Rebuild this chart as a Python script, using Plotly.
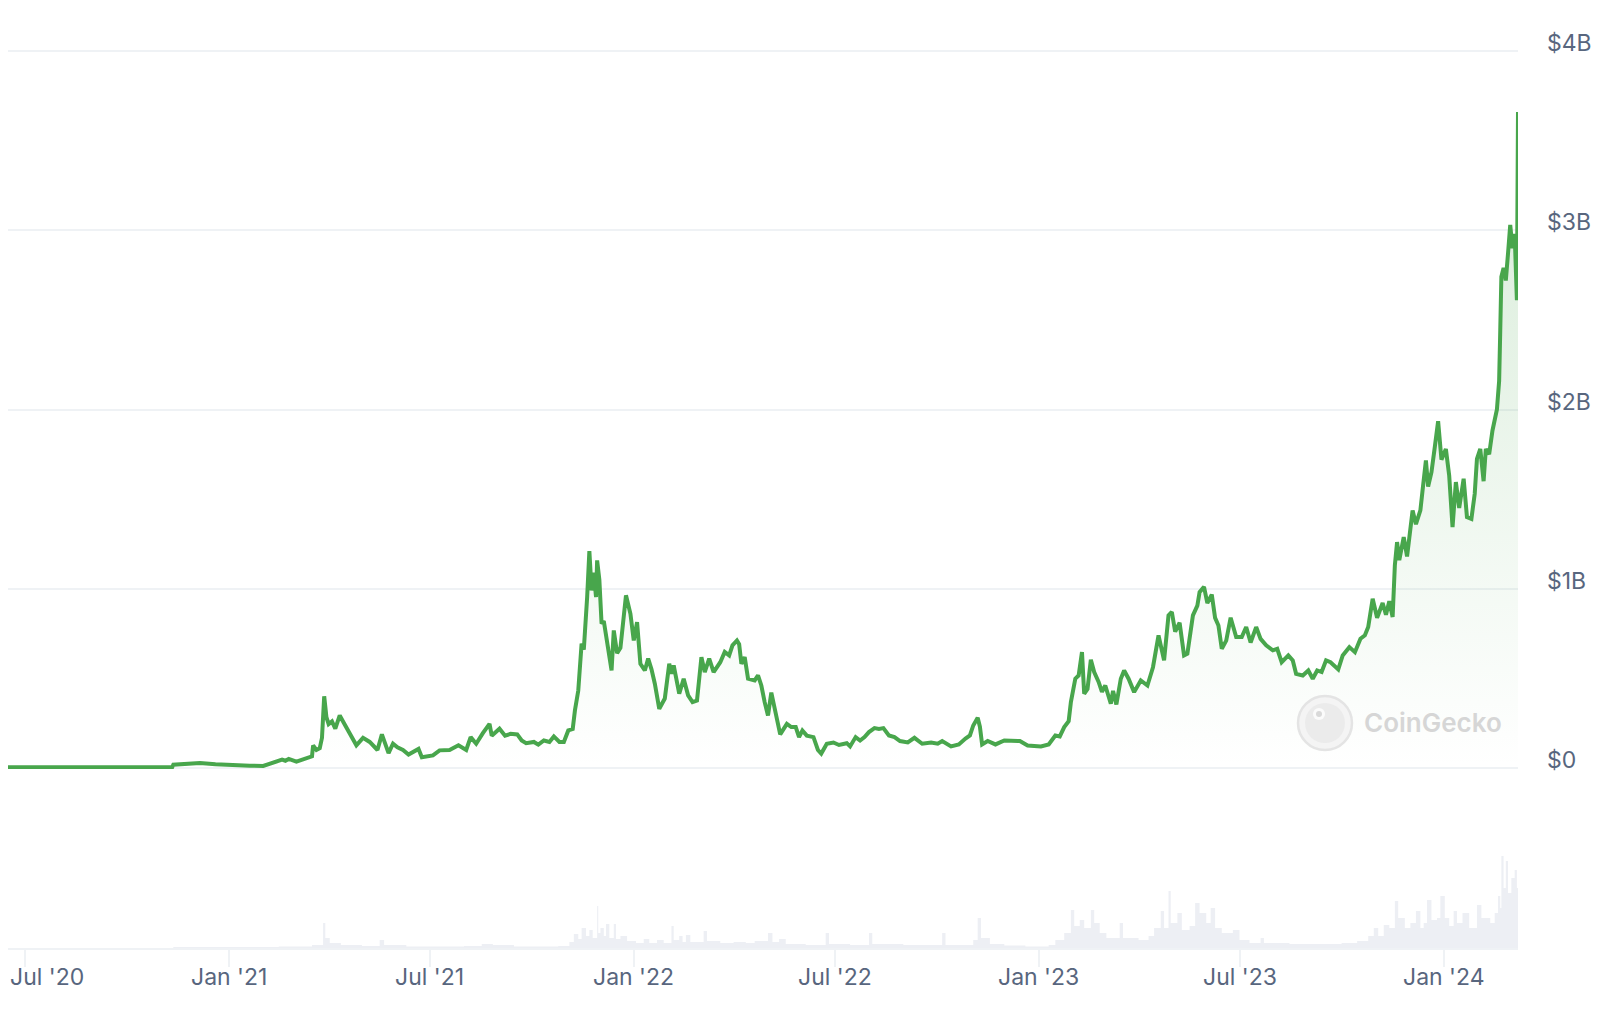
import plotly.graph_objects as go

# ---------------- data ----------------
price_dates = [
"2020-06-16","2020-08-15","2020-10-01","2020-11-11","2020-11-12","2020-11-25","2020-12-06","2020-12-20",
"2021-01-05","2021-01-20","2021-02-01","2021-02-07","2021-02-18","2021-02-21","2021-02-24","2021-03-03",
"2021-03-12","2021-03-17","2021-03-18","2021-03-21","2021-03-24","2021-03-26","2021-03-28","2021-03-30",
"2021-04-01","2021-04-04","2021-04-07","2021-04-11","2021-04-16","2021-04-20","2021-04-26","2021-05-02",
"2021-05-08","2021-05-15","2021-05-19","2021-05-25","2021-05-29","2021-06-02","2021-06-07","2021-06-12",
"2021-06-21","2021-06-24","2021-07-04","2021-07-10","2021-07-19","2021-07-27","2021-08-03","2021-08-07",
"2021-08-12","2021-08-18","2021-08-24","2021-08-26","2021-09-02","2021-09-07","2021-09-12","2021-09-18",
"2021-09-22","2021-09-26","2021-10-03","2021-10-07","2021-10-12","2021-10-17","2021-10-21","2021-10-26",
"2021-10-30","2021-11-03","2021-11-07","2021-11-09","2021-11-12","2021-11-15","2021-11-17","2021-11-20",
"2021-11-22","2021-11-24","2021-11-26","2021-11-28","2021-11-29","2021-12-01","2021-12-03","2021-12-05",
"2021-12-08","2021-12-12","2021-12-14","2021-12-17","2021-12-20","2021-12-23","2021-12-25","2021-12-29",
"2022-01-01","2022-01-04","2022-01-07","2022-01-11","2022-01-14","2022-01-17","2022-01-20","2022-01-24",
"2022-01-29","2022-02-02","2022-02-04","2022-02-06","2022-02-11","2022-02-15","2022-02-19","2022-02-23",
"2022-02-27","2022-03-03","2022-03-06","2022-03-10","2022-03-14","2022-03-20","2022-03-24","2022-03-28",
"2022-03-31","2022-04-04","2022-04-06","2022-04-08","2022-04-11","2022-04-14","2022-04-20","2022-04-23",
"2022-04-26","2022-04-29","2022-05-02","2022-05-05","2022-05-09","2022-05-13","2022-05-19","2022-05-23",
"2022-05-27","2022-05-30","2022-06-02","2022-06-06","2022-06-12","2022-06-16","2022-06-19","2022-06-24",
"2022-06-30","2022-07-05","2022-07-12","2022-07-15","2022-07-20","2022-07-24","2022-07-28","2022-08-01",
"2022-08-06","2022-08-10","2022-08-14","2022-08-19","2022-08-24","2022-08-29","2022-09-05","2022-09-11",
"2022-09-18","2022-09-26","2022-10-02","2022-10-06","2022-10-14","2022-10-21","2022-10-27","2022-10-31",
"2022-11-03","2022-11-07","2022-11-09","2022-11-11","2022-11-16","2022-11-23","2022-12-01","2022-12-07",
"2022-12-15","2022-12-22","2023-01-03","2023-01-10","2023-01-16","2023-01-20","2023-01-24","2023-01-28",
"2023-01-30","2023-02-03","2023-02-06","2023-02-09","2023-02-11","2023-02-14","2023-02-17","2023-02-20",
"2023-02-24","2023-02-27","2023-03-02","2023-03-07","2023-03-09","2023-03-12","2023-03-16","2023-03-19",
"2023-03-23","2023-03-28","2023-04-03","2023-04-09","2023-04-14","2023-04-19","2023-04-24","2023-04-28",
"2023-05-01","2023-05-04","2023-05-08","2023-05-12","2023-05-15","2023-05-20","2023-05-24","2023-05-26",
"2023-05-30","2023-06-02","2023-06-06","2023-06-09","2023-06-12","2023-06-15","2023-06-19","2023-06-23",
"2023-06-28","2023-07-03","2023-07-07","2023-07-11","2023-07-16","2023-07-20","2023-07-25","2023-07-31",
"2023-08-04","2023-08-08","2023-08-14","2023-08-18","2023-08-21","2023-08-27","2023-09-01","2023-09-05",
"2023-09-09","2023-09-13","2023-09-17","2023-09-21","2023-09-28","2023-10-02","2023-10-08","2023-10-13",
"2023-10-18","2023-10-22","2023-10-25","2023-10-29","2023-11-02","2023-11-07","2023-11-10","2023-11-13",
"2023-11-16","2023-11-18","2023-11-20","2023-11-22","2023-11-26","2023-11-29","2023-12-04","2023-12-07",
"2023-12-11","2023-12-13","2023-12-16","2023-12-18","2023-12-21","2023-12-24","2023-12-27","2023-12-30",
"2024-01-03","2024-01-06","2024-01-09","2024-01-12","2024-01-15","2024-01-19","2024-01-22","2024-01-26",
"2024-01-29","2024-01-31","2024-02-03","2024-02-06","2024-02-08","2024-02-11","2024-02-14","2024-02-18",
"2024-02-20","2024-02-21","2024-02-22","2024-02-24","2024-02-26","2024-02-28","2024-03-01","2024-03-03",
"2024-03-05","2024-03-07","2024-03-08",
]
market_cap_b = [
0.004,0.004,0.004,0.004,0.018,0.02,0.027,0.02,
0.014,0.012,0.011,0.022,0.046,0.04,0.05,0.035,
0.057,0.065,0.125,0.10,0.11,0.168,0.40,0.283,
0.245,0.26,0.219,0.293,0.237,0.194,0.126,0.168,
0.145,0.10,0.187,0.083,0.135,0.115,0.10,0.075,
0.106,0.06,0.07,0.098,0.10,0.126,0.10,0.172,
0.135,0.194,0.246,0.18,0.219,0.18,0.19,0.187,
0.153,0.138,0.145,0.13,0.153,0.145,0.176,0.145,
0.145,0.209,0.217,0.321,0.432,0.693,0.66,0.953,
1.21,0.99,1.09,0.953,1.158,1.05,0.805,0.82,
0.711,0.544,0.767,0.64,0.67,0.86,0.963,0.86,
0.711,0.814,0.581,0.544,0.61,0.55,0.47,0.33,
0.387,0.581,0.525,0.572,0.414,0.497,0.405,0.367,
0.376,0.618,0.535,0.61,0.535,0.59,0.647,0.628,
0.684,0.711,0.69,0.581,0.618,0.498,0.488,0.516,
0.46,0.367,0.293,0.42,0.31,0.187,0.246,0.228,
0.228,0.172,0.209,0.18,0.172,0.10,0.08,0.135,
0.142,0.128,0.138,0.12,0.172,0.153,0.172,0.20,
0.222,0.218,0.222,0.181,0.172,0.15,0.142,0.168,
0.135,0.142,0.135,0.15,0.12,0.131,0.164,0.181,
0.237,0.28,0.23,0.131,0.15,0.131,0.153,0.153,
0.15,0.125,0.12,0.131,0.181,0.176,0.228,0.261,
0.367,0.498,0.516,0.646,0.414,0.44,0.604,0.535,
0.48,0.424,0.46,0.358,0.43,0.354,0.498,0.544,
0.498,0.423,0.488,0.46,0.562,0.74,0.6,0.851,
0.87,0.76,0.81,0.628,0.637,0.851,0.906,0.981,
1.01,0.92,0.967,0.837,0.795,0.665,0.71,0.838,
0.73,0.73,0.786,0.70,0.786,0.72,0.684,0.656,
0.665,0.59,0.628,0.6,0.525,0.516,0.544,0.498,
0.544,0.535,0.6,0.59,0.55,0.628,0.674,0.646,
0.721,0.74,0.786,0.944,0.838,0.92,0.855,0.93,
0.842,1.13,1.26,1.16,1.288,1.18,1.437,1.36,
1.437,1.549,1.716,1.57,1.65,1.79,1.935,1.72,
1.78,1.63,1.344,1.595,1.45,1.614,1.40,1.39,
1.53,1.725,1.78,1.60,1.78,1.75,1.883,2.0,
2.16,2.44,2.74,2.79,2.72,2.87,3.03,2.9,
2.98,2.61,3.66,
]

volume_dates = [
"2020-06-16","2020-11-10","2020-11-12","2021-02-15","2021-03-17","2021-03-27","2021-03-29","2021-04-02",
"2021-04-12","2021-05-01","2021-05-17","2021-05-21","2021-06-10","2021-08-01","2021-08-17","2021-08-27",
"2021-09-15","2021-10-25","2021-11-04","2021-11-08","2021-11-12","2021-11-15","2021-11-19","2021-11-22",
"2021-11-25","2021-11-29","2021-11-30","2021-12-02","2021-12-05","2021-12-07","2021-12-10","2021-12-14",
"2021-12-16","2021-12-20","2021-12-26","2022-01-03","2022-01-10","2022-01-15","2022-01-22","2022-01-28",
"2022-02-04","2022-02-06","2022-02-11","2022-02-14","2022-02-17","2022-02-21","2022-03-05","2022-03-08",
"2022-03-20","2022-04-01","2022-04-12","2022-04-20","2022-05-02","2022-05-06","2022-05-12","2022-05-18",
"2022-06-05","2022-06-23","2022-06-26","2022-07-15","2022-08-01","2022-08-04","2022-09-01","2022-10-06",
"2022-10-09","2022-11-03","2022-11-07","2022-11-10","2022-11-18","2022-12-01","2022-12-20","2023-01-10",
"2023-01-16","2023-01-24","2023-01-30","2023-02-02","2023-02-07","2023-02-11","2023-02-17","2023-02-20",
"2023-02-25","2023-03-03","2023-03-15","2023-03-18","2023-04-01","2023-04-10","2023-04-15","2023-04-21",
"2023-04-24","2023-04-28","2023-04-30","2023-05-06","2023-05-10","2023-05-17","2023-05-22","2023-05-26",
"2023-06-01","2023-06-05","2023-06-09","2023-06-15","2023-06-25","2023-07-01","2023-07-10","2023-07-20",
"2023-07-23","2023-08-15","2023-09-10","2023-10-01","2023-10-15","2023-10-25","2023-10-30","2023-11-03",
"2023-11-08","2023-11-13","2023-11-18","2023-11-21","2023-11-27","2023-12-02","2023-12-07","2023-12-11",
"2023-12-14","2023-12-17","2023-12-21","2023-12-26","2023-12-29","2024-01-02","2024-01-06","2024-01-10",
"2024-01-13","2024-01-18","2024-01-24","2024-01-31","2024-02-04","2024-02-08","2024-02-12","2024-02-16",
"2024-02-19","2024-02-21","2024-02-22","2024-02-24","2024-02-26","2024-02-28","2024-03-02","2024-03-05",
"2024-03-07","2024-03-08",
]
volume_musd = [
0,0,5,7,15,125,50,25,
15,10,40,15,8,10,20,15,
8,10,30,70,45,100,60,90,
50,210,75,100,60,120,50,120,
45,60,35,25,45,25,40,25,
110,40,60,30,65,30,85,35,
25,30,25,35,75,30,45,20,
15,75,20,15,75,20,15,75,
15,40,150,50,20,12,7,15,
40,75,190,110,140,100,190,125,
75,50,125,50,40,60,100,185,
100,285,125,175,90,110,225,175,
125,200,100,75,90,40,25,50,
25,20,20,25,35,60,100,60,
115,100,235,150,100,125,185,100,
125,240,140,150,260,150,110,185,
125,175,100,215,150,150,125,175,
260,200,460,300,435,275,350,390,
300,815,
]

tick_dates = ["2020-07-01","2021-01-01","2021-07-01","2022-01-01","2022-07-01","2023-01-01","2023-07-01","2024-01-01"]
tick_labels = ["Jul '20","Jan '21","Jul '21","Jan '22","Jul '22","Jan '23","Jul '23","Jan '24"]
y_ticks = [0, 1, 2, 3, 4]
y_labels = ["$0", "$1B", "$2B", "$3B", "$4B"]

# ---------------- styling ----------------
LINE = "#48a64c"
TXT = "#58667e"
GRID = "#eff2f5"
FONT = "Inter"

fig = go.Figure()

fig.add_trace(go.Scatter(
    x=volume_dates, y=volume_musd, xaxis="x2", yaxis="y2",
    mode="lines", line=dict(width=0, shape="hv"),
    fill="tozeroy", fillcolor="#edeff4", hoverinfo="skip",
))

fig.add_trace(go.Scatter(
    x=price_dates, y=market_cap_b, xaxis="x", yaxis="y",
    mode="lines", line=dict(color=LINE, width=4),
    fill="tozeroy",
    fillgradient=dict(type="vertical",
                      colorscale=[[0, "rgba(72,166,76,0.0)"], [1, "rgba(72,166,76,0.22)"]]),
    hoverinfo="skip",
))

x_range = [price_dates[0], price_dates[-1]]

W, H = 1606, 1022
ml, mr, mt, mb = 8, 88, 50, 74
pw, ph = W - ml - mr, H - mt - mb

def px_x(p):
    return (p - ml) / pw

def px_y(p):
    return (H - mb - p) / ph

price_bottom = px_y(769)
vol_top = px_y(785)

annotations = []
for i, (d, t) in enumerate(zip(tick_dates, tick_labels)):
    annotations.append(dict(x=x_range[0] if i == 0 else d, xref="x2", y=0, yref="paper", text=t,
                            showarrow=False, xanchor="left" if i == 0 else "center",
                            yanchor="middle", yshift=-29,
                            font=dict(family=FONT, size=23, color=TXT)))

# watermark text
annotations.append(dict(x=px_x(1362), xref="paper", y=px_y(722), yref="paper", text="CoinGecko",
                        showarrow=False, xanchor="left", yanchor="middle",
                        font=dict(family=FONT, size=26, color="#d6d6d6", weight=600)))

shapes = [
    dict(type="circle", xref="paper", yref="paper",
         x0=px_x(1298), x1=px_x(1352), y0=px_y(750), y1=px_y(696),
         line=dict(color="#e4e4e4", width=2.5), fillcolor="#f4f4f4", layer="above"),
    dict(type="circle", xref="paper", yref="paper",
         x0=px_x(1305), x1=px_x(1345), y0=px_y(743), y1=px_y(703),
         line=dict(width=0), fillcolor="#ebebeb", layer="above"),
    dict(type="circle", xref="paper", yref="paper",
         x0=px_x(1313), x1=px_x(1325), y0=px_y(720), y1=px_y(708),
         line=dict(width=0), fillcolor="#fbfbfb", layer="above"),
    dict(type="circle", xref="paper", yref="paper",
         x0=px_x(1316), x1=px_x(1322), y0=px_y(717), y1=px_y(711),
         line=dict(width=0), fillcolor="#d9d9d9", layer="above"),
]

fig.update_layout(
    width=W, height=H, autosize=False,
    margin=dict(l=ml, r=mr, t=mt, b=mb, pad=0),
    paper_bgcolor="white", plot_bgcolor="white",
    showlegend=False,
    xaxis=dict(domain=[0, 1], anchor="y", range=x_range, type="date",
               showgrid=False, zeroline=False, showticklabels=False, ticks="",
               showline=False),
    yaxis=dict(domain=[price_bottom, 1], anchor="x", side="right", range=[-0.006, 4.006],
               tickvals=y_ticks, ticktext=y_labels, showgrid=True, gridcolor=GRID,
               gridwidth=1.5, zeroline=False, ticks="", showline=False,
               tickfont=dict(family=FONT, size=23, color=TXT),
               ticklabelshift=-8, ticklabelstandoff=28),
    xaxis2=dict(domain=[0, 1], anchor="y2", matches="x", range=x_range, type="date",
                showgrid=False, zeroline=False, showticklabels=False,
                tickvals=tick_dates, ticks="outside", ticklen=17, tickwidth=1.5,
                tickcolor=GRID, showline=True, linecolor=GRID, linewidth=2),
    yaxis2=dict(domain=[0, vol_top], anchor="x2", range=[0, max(volume_musd)],
                showgrid=False, zeroline=False, showticklabels=False, ticks="",
                showline=False),
    annotations=annotations,
    shapes=shapes,
)

fig.write_html("out.html")
